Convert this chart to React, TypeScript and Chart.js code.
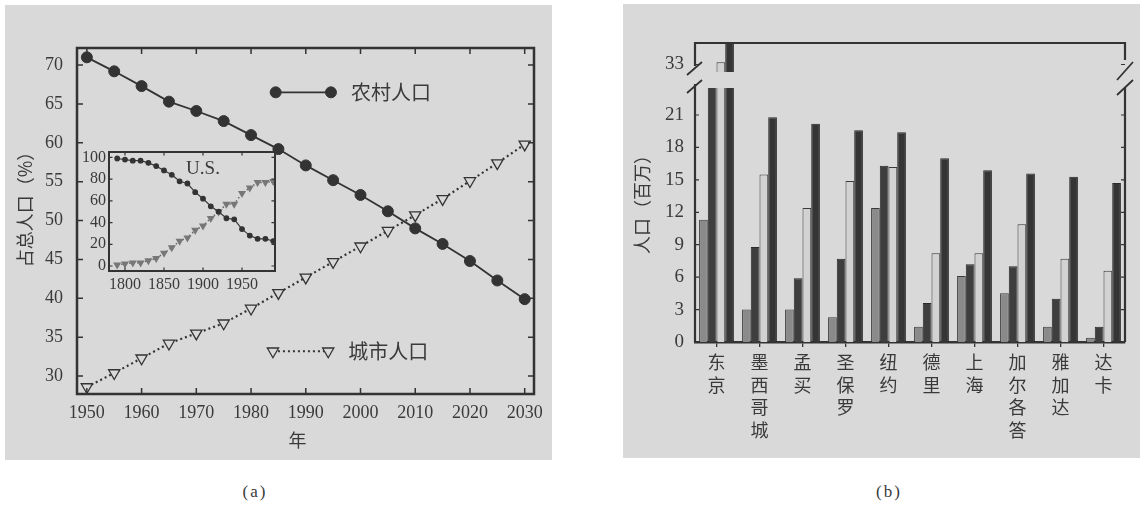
import React, { useEffect, useRef } from 'react';
import { Chart, registerables } from 'chart.js';

Chart.register(...registerables);

const INK = '#333333';
const TEXT = '#3a3a3a';
const PANEL_BG = '#d9d9d9';
const SERIF = '"Liberation Serif", "Times New Roman", serif';
const CJK = '"Noto Sans CJK SC", "Noto Sans CJK JP", sans-serif';
const MIXED = '"Liberation Serif", "Noto Sans CJK SC", serif';

// ---------------- Panel (a): share of total population ----------------
const years = [1950, 1955, 1960, 1965, 1970, 1975, 1980, 1985, 1990, 1995, 2000, 2005, 2010, 2015, 2020, 2025, 2030];
const ruralShare = [71.0, 69.2, 67.3, 65.3, 64.1, 62.8, 61.0, 59.2, 57.1, 55.2, 53.3, 51.2, 49.0, 47.0, 44.8, 42.3, 39.9];
const urbanShare = [28.6, 30.4, 32.3, 34.2, 35.5, 36.8, 38.7, 40.7, 42.7, 44.7, 46.7, 48.7, 50.7, 52.8, 55.1, 57.4, 59.8];
const yearTicks = [1950, 1960, 1970, 1980, 1990, 2000, 2010, 2020, 2030];
const shareTicks = [30, 35, 40, 45, 50, 55, 60, 65, 70];
const ruralLabel = '农村人口';
const urbanLabel = '城市人口';
const xTitleA = '年';
const yTitleA = '占总人口（%）';

// inset: U.S.
const usYears = [1790, 1800, 1810, 1820, 1830, 1840, 1850, 1860, 1870, 1880, 1890, 1900, 1910, 1920, 1930, 1940, 1950, 1960, 1970, 1980, 1990];
const usRural = [99, 98, 97, 97, 95, 92, 88, 84, 78, 76, 68, 62, 55, 50, 44, 43, 34, 28, 25, 25, 23];
const usUrban = [1, 2, 3, 3, 5, 7, 12, 17, 23, 26, 33, 37, 44, 50, 57, 57, 67, 72, 77, 77, 78];
const usYearTicks = [1800, 1850, 1900, 1950];
const usShareTicks = [0, 20, 40, 60, 80, 100];
const insetLabel = 'U.S.';

// ---------------- Panel (b): city populations (millions) ----------------
const cities = ['东京', '墨西哥城', '孟买', '圣保罗', '纽约', '德里', '上海', '加尔各答', '雅加达', '达卡'];
const seriesNames = ['1950', '1975', '2000', '2015'];
const pop1950 = [11.3, 3.0, 3.0, 2.3, 12.4, 1.4, 6.1, 4.5, 1.4, 0.4];
const pop1975 = [26.6, 8.8, 5.9, 7.7, 16.3, 3.6, 7.2, 7.0, 4.0, 1.4];
const pop2000 = [33.2, 15.5, 12.4, 14.9, 16.2, 8.2, 8.2, 10.9, 7.7, 6.6];
const pop2015 = [36.2, 20.8, 20.2, 19.6, 19.4, 17.0, 15.9, 15.6, 15.3, 14.7];
const popTicksLower = [0, 3, 6, 9, 12, 15, 18, 21];
const popTicksUpper = [33];
const yTitleB = '人口（百万）';
const captionA = '(a)';
const captionB = '(b)';

// ---------------- styles / layout constants ----------------
const barStyles = [
  { bg: '#8a8a8a', border: '#3a3a3a' },
  { bg: '#3e3e3e', border: '#2a2a2a' },
  { bg: '#d2d2d2', border: '#3a3a3a' },
  { bg: '#353535', border: '#2a2a2a' },
];
const legendSpots = [
  { from: 1984.5, to: 1994.6, at: 66.5 },
  { from: 1984.0, to: 1994.1, at: 33.2 },
];

const fixedWidth = (w: number) => (s: any) => { s.width = w; };
const fixedHeight = (h: number) => (s: any) => { s.height = h; };
const setTicks = (vals: number[]) => (s: any) => { s.ticks = vals.map((v) => ({ value: v })); };
const plain = (v: any) => String(v);

function drawMarker(ctx: CanvasRenderingContext2D, ds: any, x: number, y: number) {
  const r = ds.pointRadius;
  ctx.save();
  ctx.beginPath();
  if (ds.pointStyle === 'triangle') {
    ctx.moveTo(x, y + r);
    ctx.lineTo(x - r * Math.sin(Math.PI / 3), y - r / 2);
    ctx.lineTo(x + r * Math.sin(Math.PI / 3), y - r / 2);
    ctx.closePath();
  } else {
    ctx.arc(x, y, r, 0, Math.PI * 2);
  }
  ctx.fillStyle = ds.pointBackgroundColor;
  ctx.fill();
  ctx.setLineDash([]);
  ctx.lineWidth = ds.pointBorderWidth || 1;
  ctx.strokeStyle = ds.pointBorderColor;
  ctx.stroke();
  ctx.restore();
}

const inwardFrame = (len: number, frameWidth: number, tickWidth: number) => ({
  id: 'inwardFrame',
  afterDatasetsDraw(chart: any) {
    const { ctx, chartArea: a } = chart;
    const xs = chart.scales.x;
    const ys = chart.scales.y;
    ctx.save();
    ctx.strokeStyle = INK;
    ctx.lineWidth = tickWidth;
    ctx.beginPath();
    xs.ticks.forEach((t: any) => {
      const p = xs.getPixelForValue(t.value);
      ctx.moveTo(p, a.bottom); ctx.lineTo(p, a.bottom - len);
      ctx.moveTo(p, a.top); ctx.lineTo(p, a.top + len);
    });
    ys.ticks.forEach((t: any) => {
      const p = ys.getPixelForValue(t.value);
      ctx.moveTo(a.left, p); ctx.lineTo(a.left + len, p);
      ctx.moveTo(a.right, p); ctx.lineTo(a.right - len, p);
    });
    ctx.stroke();
    ctx.lineWidth = frameWidth;
    ctx.strokeRect(a.left, a.top, a.right - a.left, a.bottom - a.top);
    ctx.restore();
  },
});

const mainDecor = {
  id: 'mainDecor',
  afterDraw(chart: any) {
    const { ctx, chartArea: a } = chart;
    const xs = chart.scales.x;
    const ys = chart.scales.y;
    ctx.save();
    chart.data.datasets.forEach((ds: any, i: number) => {
      const spot = legendSpots[i];
      const x1 = xs.getPixelForValue(spot.from);
      const x2 = xs.getPixelForValue(spot.to);
      const y = ys.getPixelForValue(spot.at);
      ctx.save();
      ctx.strokeStyle = ds.borderColor;
      ctx.lineWidth = ds.borderWidth;
      ctx.setLineDash(ds.borderDash || []);
      ctx.beginPath();
      ctx.moveTo(x1, y); ctx.lineTo(x2, y);
      ctx.stroke();
      ctx.restore();
      drawMarker(ctx, ds, x1, y);
      drawMarker(ctx, ds, x2, y);
      ctx.fillStyle = TEXT;
      ctx.font = `20px ${CJK}`;
      ctx.textAlign = 'left';
      ctx.textBaseline = 'middle';
      ctx.fillText(ds.label, x2 + 20, y);
    });
    // axis titles
    ctx.fillStyle = TEXT;
    ctx.font = `18px ${CJK}`;
    ctx.textAlign = 'center';
    ctx.textBaseline = 'middle';
    ctx.fillText(xTitleA, (a.left + a.right) / 2 - 8, a.bottom + 46);
    ctx.translate(a.left - 52, (a.top + a.bottom) / 2 - 16);
    ctx.rotate(-Math.PI / 2);
    ctx.fillText(yTitleA, 0, 0);
    ctx.restore();
  },
};

const insetDecor = {
  id: 'insetDecor',
  afterDraw(chart: any) {
    const { ctx } = chart;
    const xs = chart.scales.x;
    const ys = chart.scales.y;
    ctx.save();
    ctx.fillStyle = TEXT;
    ctx.font = `19px ${SERIF}`;
    ctx.textAlign = 'center';
    ctx.textBaseline = 'middle';
    ctx.fillText(insetLabel, xs.getPixelForValue(1900), ys.getPixelForValue(89));
    ctx.restore();
  },
};

const lowerDecor = {
  id: 'lowerDecor',
  afterDraw(chart: any) {
    const { ctx, chartArea: a } = chart;
    const ys = chart.scales.y;
    ctx.save();
    ctx.strokeStyle = INK;
    ctx.lineWidth = 2.2;
    ctx.beginPath();
    ctx.moveTo(a.left, a.top - 4); ctx.lineTo(a.left, a.bottom);
    ctx.moveTo(a.right, a.top - 1); ctx.lineTo(a.right, a.bottom);
    ctx.stroke();
    ctx.lineWidth = 1.2;
    ctx.beginPath();
    ys.ticks.forEach((t: any) => {
      const p = ys.getPixelForValue(t.value);
      ctx.moveTo(a.left, p); ctx.lineTo(a.left + 4, p);
      ctx.moveTo(a.right, p); ctx.lineTo(a.right - 4, p);
    });
    ctx.stroke();
    // axis-break slashes
    ctx.lineWidth = 1.8;
    ctx.beginPath();
    ctx.moveTo(a.left - 8, a.top - 13); ctx.lineTo(a.left + 7, a.top - 26);
    ctx.moveTo(a.left - 8, a.top + 5); ctx.lineTo(a.left + 7, a.top - 8);
    ctx.moveTo(a.right - 8, a.top - 8); ctx.lineTo(a.right + 8, a.top - 26);
    ctx.moveTo(a.right - 8, a.top + 7); ctx.lineTo(a.right + 8, a.top - 8);
    ctx.stroke();
    // y title
    ctx.fillStyle = TEXT;
    ctx.font = `18px ${CJK}`;
    ctx.textAlign = 'center';
    ctx.textBaseline = 'middle';
    ctx.translate(a.left - 53, a.top + 112);
    ctx.rotate(-Math.PI / 2);
    ctx.fillText(yTitleB, 0, 0);
    ctx.restore();
  },
};

const upperDecor = {
  id: 'upperDecor',
  afterDraw(chart: any) {
    const { ctx, chartArea: a } = chart;
    const ys = chart.scales.y;
    ctx.save();
    ctx.strokeStyle = INK;
    ctx.lineWidth = 2.2;
    ctx.beginPath();
    ctx.moveTo(a.left, a.bottom - 6);
    ctx.lineTo(a.left, a.top);
    ctx.lineTo(a.right, a.top);
    ctx.lineTo(a.right, a.bottom - 12);
    ctx.stroke();
    ctx.lineWidth = 1.2;
    ctx.beginPath();
    ys.ticks.forEach((t: any) => {
      const p = ys.getPixelForValue(t.value);
      ctx.moveTo(a.left, p); ctx.lineTo(a.left + 4, p);
      ctx.moveTo(a.right, p); ctx.lineTo(a.right - 4, p);
    });
    ctx.stroke();
    ctx.restore();
  },
};

const noGrid = { display: false, drawTicks: false };
const noBorder = { display: false };

function mainConfig(): any {
  return {
    type: 'line',
    data: {
      datasets: [
        {
          label: ruralLabel,
          data: years.map((x, i) => ({ x, y: ruralShare[i] })),
          borderColor: INK,
          borderWidth: 1.8,
          pointStyle: 'circle',
          pointRadius: 5.5,
          pointBackgroundColor: INK,
          pointBorderColor: INK,
          pointBorderWidth: 1,
        },
        {
          label: urbanLabel,
          data: years.map((x, i) => ({ x, y: urbanShare[i] })),
          borderColor: INK,
          borderWidth: 2.2,
          borderDash: [2, 3],
          pointStyle: 'triangle',
          pointRotation: 180,
          pointRadius: 6.5,
          pointBackgroundColor: PANEL_BG,
          pointBorderColor: INK,
          pointBorderWidth: 1.3,
        },
      ],
    },
    options: {
      responsive: false,
      maintainAspectRatio: false,
      animation: false,
      layout: { autoPadding: false, padding: { left: 17, top: 48, right: 26, bottom: 16 } },
      plugins: { legend: { display: false }, tooltip: { enabled: false } },
      scales: {
        x: {
          type: 'linear', bounds: 'data', min: 1948.2, max: 2031.7,
          afterBuildTicks: setTicks(yearTicks), afterFit: fixedHeight(60),
          grid: noGrid, border: noBorder,
          ticks: { font: { family: SERIF, size: 18 }, color: TEXT, padding: 8, callback: plain, autoSkip: false, maxRotation: 0 },
        },
        y: {
          type: 'linear', bounds: 'data', min: 27.7, max: 72.2,
          afterBuildTicks: setTicks(shareTicks), afterFit: fixedWidth(60),
          grid: noGrid, border: noBorder,
          ticks: { font: { family: SERIF, size: 18 }, color: TEXT, padding: 14, callback: plain, autoSkip: false },
        },
      },
    },
    plugins: [inwardFrame(6, 2.5, 1.5), mainDecor],
  };
}

function insetConfig(): any {
  return {
    type: 'line',
    data: {
      datasets: [
        {
          label: 'rural',
          data: usYears.map((x, i) => ({ x, y: usRural[i] })),
          borderColor: '#3a3a3a',
          borderWidth: 1.2,
          pointStyle: 'circle',
          pointRadius: 2.3,
          pointBackgroundColor: '#333',
          pointBorderColor: '#333',
        },
        {
          label: 'urban',
          data: usYears.map((x, i) => ({ x, y: usUrban[i] })),
          borderColor: '#666',
          borderWidth: 1.5,
          borderDash: [1.5, 2.5],
          pointStyle: 'triangle',
          pointRotation: 180,
          pointRadius: 3.2,
          pointBackgroundColor: '#777',
          pointBorderColor: '#777',
        },
      ],
    },
    options: {
      responsive: false,
      maintainAspectRatio: false,
      animation: false,
      layout: { autoPadding: false, padding: { left: 0, top: 22, right: 7, bottom: 0 } },
      plugins: { legend: { display: false }, tooltip: { enabled: false } },
      scales: {
        x: {
          type: 'linear', bounds: 'data', min: 1779.5, max: 1992.3,
          afterBuildTicks: setTicks(usYearTicks), afterFit: fixedHeight(27),
          grid: noGrid, border: noBorder,
          ticks: { font: { family: SERIF, size: 16 }, color: TEXT, padding: 4, callback: plain, autoSkip: false, maxRotation: 0 },
        },
        y: {
          type: 'linear', bounds: 'data', min: -4.6, max: 105,
          afterBuildTicks: setTicks(usShareTicks), afterFit: fixedWidth(31),
          grid: noGrid, border: noBorder,
          ticks: { font: { family: SERIF, size: 16 }, color: TEXT, padding: 3, callback: plain, autoSkip: false },
        },
      },
    },
    plugins: [inwardFrame(3.5, 2, 1.2), insetDecor],
  };
}

function barDatasets() {
  const series = [pop1950, pop1975, pop2000, pop2015];
  return series.map((vals, i) => ({
    label: seriesNames[i],
    data: vals,
    backgroundColor: barStyles[i].bg,
    borderColor: barStyles[i].border,
    borderWidth: 1,
    categoryPercentage: 0.81,
    barPercentage: 1,
    clip: 0,
  }));
}

const categoryLabels = cities.map((c) => Array.from(c));

function lowerConfig(): any {
  return {
    type: 'bar',
    data: { labels: categoryLabels, datasets: barDatasets() },
    options: {
      responsive: false,
      maintainAspectRatio: false,
      animation: false,
      layout: { autoPadding: false, padding: { left: 0, top: 88, right: 19, bottom: 0 } },
      plugins: { legend: { display: false }, tooltip: { enabled: false } },
      scales: {
        x: {
          type: 'category', offset: true, afterFit: fixedHeight(128),
          grid: { display: true, drawOnChartArea: false, drawTicks: true, tickLength: 5, offset: false, color: INK, lineWidth: 1.3 },
          border: { display: true, color: INK, width: 2.5 },
          ticks: { font: { family: CJK, size: 18, lineHeight: 1.25 }, color: TEXT, padding: 4, maxRotation: 0, minRotation: 0, autoSkip: false },
        },
        y: {
          type: 'linear', bounds: 'data', min: 0, max: 23.5,
          afterBuildTicks: setTicks(popTicksLower), afterFit: fixedWidth(70),
          grid: noGrid, border: noBorder,
          ticks: { font: { family: SERIF, size: 19 }, color: TEXT, padding: 11, callback: plain, autoSkip: false },
        },
      },
    },
    plugins: [lowerDecor],
  };
}

function upperConfig(): any {
  return {
    type: 'bar',
    data: { labels: categoryLabels, datasets: barDatasets() },
    options: {
      responsive: false,
      maintainAspectRatio: false,
      animation: false,
      layout: { autoPadding: false, padding: { left: 0, top: 43, right: 19, bottom: 28 } },
      plugins: { legend: { display: false }, tooltip: { enabled: false } },
      scales: {
        x: { type: 'category', offset: true, display: false },
        y: {
          type: 'linear', bounds: 'data', min: 32.3, max: 35.0,
          afterBuildTicks: setTicks(popTicksUpper), afterFit: fixedWidth(70),
          grid: noGrid, border: noBorder,
          ticks: { font: { family: SERIF, size: 19 }, color: TEXT, padding: 11, callback: plain, autoSkip: false },
        },
      },
    },
    plugins: [upperDecor],
  };
}

function ChartCanvas(props: { left: number; top: number; width: number; height: number; build: () => any }) {
  const ref = useRef<HTMLCanvasElement>(null);
  useEffect(() => {
    const chart = new Chart(ref.current as HTMLCanvasElement, props.build());
    return () => chart.destroy();
  }, []);
  const { left, top, width, height } = props;
  return (
    <canvas
      ref={ref}
      width={width}
      height={height}
      style={{ position: 'absolute', left, top, width, height }}
    />
  );
}

export default function App() {
  const caption: React.CSSProperties = {
    position: 'absolute',
    top: 482,
    width: 80,
    textAlign: 'center',
    font: `17px ${MIXED}`,
    letterSpacing: 2,
    color: TEXT,
  };
  return (
    <div style={{ position: 'fixed', left: 0, top: 0, width: 1144, height: 508, background: '#ffffff', overflow: 'hidden' }}>
      <div style={{ position: 'absolute', left: 5, top: 5, width: 547, height: 455, background: PANEL_BG }} />
      <div style={{ position: 'absolute', left: 623, top: 4, width: 517, height: 454, background: PANEL_BG }} />
      <ChartCanvas left={0} top={0} width={560} height={470} build={mainConfig} />
      <ChartCanvas left={78} top={130} width={204} height={168} build={insetConfig} />
      <ChartCanvas left={625} top={0} width={519} height={470} build={lowerConfig} />
      <ChartCanvas left={625} top={0} width={519} height={100} build={upperConfig} />
      <div style={{ ...caption, left: 215 }}>{captionA}</div>
      <div style={{ ...caption, left: 849 }}>{captionB}</div>
    </div>
  );
}
